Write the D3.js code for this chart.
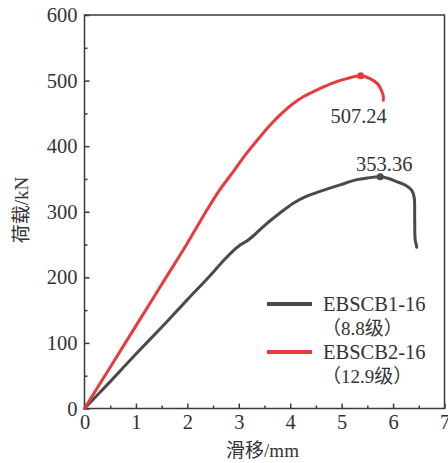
<!DOCTYPE html>
<html>
<head>
<meta charset="utf-8">
<script src="https://cdn.jsdelivr.net/npm/d3@7"></script>
<style>
  html, body { margin: 0; padding: 0; background: #fff; }
  svg { display: block; }
</style>
</head>
<body>
<svg id="chart" width="448" height="463"></svg>
<script>
// Load–slip curves, slip in mm, load in kN
const seriesNames = ["EBSCB1-16", "EBSCB2-16"];
const seriesGrades = ["（8.8级）", "（12.9级）"];
const seriesColors = ["#4a4a4a", "#e8393d"];

const slipB1 = [0, 0.5, 1, 1.5, 2, 2.4, 2.71, 2.9, 3.02, 3.15, 3.28, 3.5, 3.8, 4.06, 4.3, 4.58, 4.97, 5.3, 5.5, 5.75, 5.9, 6.07, 6.25, 6.36, 6.41, 6.42, 6.43, 6.45, 6.46];
const loadB1 = [0, 41, 83, 124, 166, 199, 226, 241, 249, 255, 263, 279, 298, 313, 323, 331, 341, 349, 351.5, 353.36, 351, 346, 340, 333, 322, 290, 257, 250, 246];

const slipB2 = [0, 0.5, 1, 1.5, 2, 2.3, 2.6, 2.9, 3.15, 3.4, 3.62, 3.85, 4.06, 4.27, 4.58, 4.85, 5.1, 5.37, 5.55, 5.7, 5.77, 5.81, 5.81];
const loadB2 = [0, 63, 126, 189, 252, 292, 330, 362, 389, 413, 433, 451, 465, 476, 488, 497, 503, 507.24, 503, 495, 486, 476, 470];

// Peak values shown next to the curves
const peakSlip = [5.75, 5.37];
const peakLoad = [353.36, 507.24];

const xTicks = [0, 1, 2, 3, 4, 5, 6, 7];
const xMinor = [0.5, 1.5, 2.5, 3.5, 4.5, 5.5, 6.5];
const yTicks = [0, 100, 200, 300, 400, 500, 600];
const yMinor = [50, 150, 250, 350, 450, 550];

const xTitle = "滑移/mm";
const yTitle = "荷载/kN";

const FONT = "'Liberation Serif', 'Noto Sans CJK SC', serif";
const FS = 20.5;

const svg = d3.select("#chart");
const m = { left: 84.5, right: 444.5, top: 15, bottom: 408.5 };

const x = d3.scaleLinear().domain([0, 7]).range([m.left, m.right]);
const y = d3.scaleLinear().domain([0, 600]).range([m.bottom, m.top]);

const axisColor = "#3a3a3a";
const textColor = "#333";

// frame
svg.append("rect")
  .attr("x", m.left).attr("y", m.top)
  .attr("width", m.right - m.left).attr("height", m.bottom - m.top)
  .attr("fill", "none").attr("stroke", axisColor).attr("stroke-width", 1.5);

function styleAxis(g) {
  g.attr("font-family", null).attr("font-size", null);
  g.select(".domain").remove();
  g.selectAll(".tick line").attr("stroke", axisColor).attr("stroke-width", 1.5);
  g.selectAll(".tick text")
    .style("font-family", FONT)
    .style("font-size", FS + "px").attr("fill", textColor);
}

// x axis, inward ticks
svg.append("g").attr("transform", `translate(0,${m.bottom})`)
  .call(d3.axisBottom(x).tickValues(xTicks).tickSize(-5).tickPadding(6).tickFormat(d3.format("d")))
  .call(styleAxis);
svg.append("g").attr("transform", `translate(0,${m.bottom})`)
  .call(d3.axisBottom(x).tickValues(xMinor).tickSize(-3).tickFormat(""))
  .call(styleAxis);

// y axis, inward ticks
svg.append("g").attr("transform", `translate(${m.left},0)`)
  .call(d3.axisLeft(y).tickValues(yTicks).tickSize(-5).tickPadding(7).tickFormat(d3.format("d")))
  .call(styleAxis);
svg.append("g").attr("transform", `translate(${m.left},0)`)
  .call(d3.axisLeft(y).tickValues(yMinor).tickSize(-3).tickFormat(""))
  .call(styleAxis);

// curves
const line = d3.line().x(d => x(d[0])).y(d => y(d[1])).curve(d3.curveCatmullRom.alpha(0.5));
const curves = [
  d3.zip(slipB1, loadB1),
  d3.zip(slipB2, loadB2)
];
curves.forEach((pts, i) => {
  svg.append("path").datum(pts)
    .attr("d", line)
    .attr("fill", "none")
    .attr("stroke", seriesColors[i])
    .attr("stroke-width", 3)
    .attr("stroke-linejoin", "round")
    .attr("stroke-linecap", "round");
});

function addText(px, py, str, anchor) {
  return svg.append("text")
    .attr("x", px).attr("y", py)
    .attr("text-anchor", anchor || "start")
    .attr("fill", textColor)
    .style("font-family", FONT)
    .style("font-size", FS + "px")
    .text(str);
}

// peak markers and labels
const labelDy = [-6, 47.4];
const labelDx = [4, -2];
peakLoad.forEach((v, i) => {
  svg.append("circle")
    .attr("cx", x(peakSlip[i])).attr("cy", y(v)).attr("r", 3.5)
    .attr("fill", seriesColors[i]);
  addText(x(peakSlip[i]) + labelDx[i], y(v) + labelDy[i], v.toFixed(2), "middle");
});

// legend
const legX0 = 267, legX1 = 312, legTextX = 323;
const legRowY = [304, 352];
seriesNames.forEach((name, i) => {
  svg.append("line")
    .attr("x1", legX0).attr("x2", legX1)
    .attr("y1", legRowY[i]).attr("y2", legRowY[i])
    .attr("stroke", seriesColors[i]).attr("stroke-width", 4);
  addText(legTextX, legRowY[i] + 6.5, name);
  addText(legTextX - 1, legRowY[i] + 31, seriesGrades[i]).style("font-size", "19px");
});

// axis titles
addText((m.left + m.right) / 2 - 2, 457, xTitle, "middle").style("font-size", "19px");
addText(0, 0, yTitle, "middle").style("font-size", "19px")
  .attr("transform", `translate(28,210) rotate(-90)`);
</script>
</body>
</html>
